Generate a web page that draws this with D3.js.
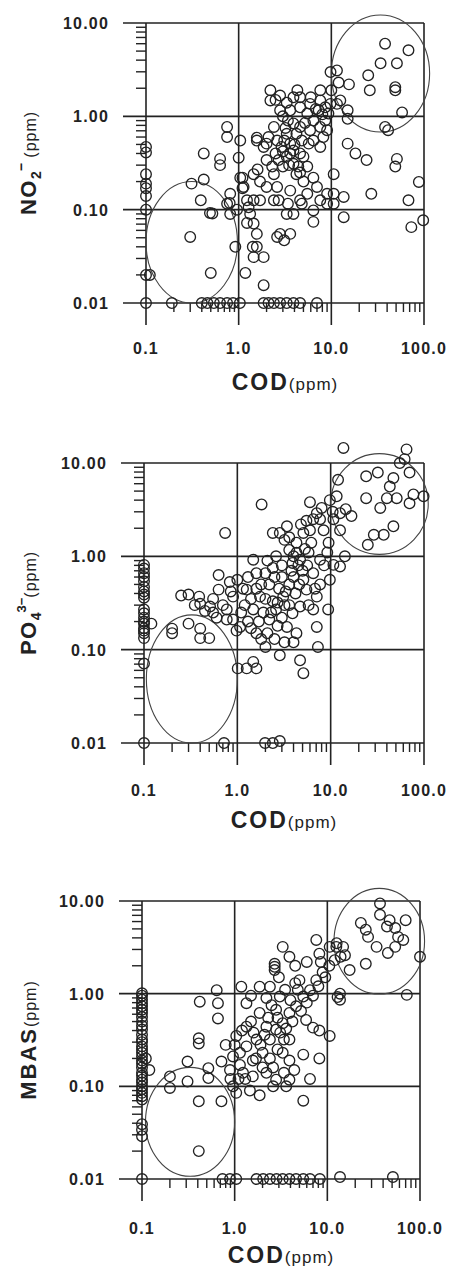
<!DOCTYPE html>
<html>
<head>
<meta charset="utf-8">
<script src="https://cdn.jsdelivr.net/npm/d3@7"></script>
<style>
body { margin: 0; background: #fff; }
text { font-family: "Liberation Sans", Arial, sans-serif; fill: #222; }
</style>
</head>
<body>
<svg id="chart" width="449" height="1275"></svg>
<script>
// COD against NO2-, PO4 3- and MBAS - three stacked log-log scatter panels

var codTicks = [0.1, 1, 10, 100];
var codTickLabels = ["0.1", "1.0", "10.0", "100.0"];
var concTicks = [0.01, 0.1, 1, 10];
var concTickLabels = ["0.01", "0.10", "1.00", "10.00"];

// [COD, NO2-] in ppm
var no2Points = [
  [0.1,0.47],[0.1,0.41],[0.1,0.24],[0.1,0.19],[0.1,0.17],[0.1,0.14],[0.1,0.10],[0.1,0.02],[0.11,0.02],[0.1,0.01],
  [0.19,0.01],[0.4,0.01],[0.46,0.01],[0.54,0.01],[0.63,0.01],[0.75,0.01],[0.87,0.01],[1.03,0.01],
  [1.86,0.01],[2.1,0.01],[2.4,0.01],[2.8,0.01],[3.3,0.01],[3.9,0.01],[4.6,0.01],[7.0,0.01],
  [0.30,0.051],[0.50,0.021],[0.31,0.19],[0.42,0.21],[0.42,0.40],[0.39,0.126],[0.49,0.092],[0.52,0.091],[0.63,0.35],[0.63,0.30],
  [0.75,0.77],[0.75,0.60],[1.04,0.55],[1.0,0.36],[1.04,0.22],[0.81,0.148],[0.75,0.116],[0.81,0.09],[0.92,0.04],[1.18,0.021],[1.86,0.0155],
  [1.13,0.175],[1.23,0.126],[1.33,0.09],[1.45,0.071],[1.57,0.055],[1.57,0.04],[1.45,0.031],[1.86,0.031],[1.57,0.55],[2.0,0.51],
  [2.2,1.9],[2.2,1.48],[2.8,1.67],[2.8,1.16],[3.0,1.0],[3.3,0.65],[3.6,0.51],[3.6,0.40],[3.9,0.31],[4.2,0.24],[4.6,0.40],
  [3.9,1.6],[4.6,1.6],[4.6,1.25],[5.5,1.07],[6.4,0.9],[7.6,1.9],[7.3,1.16],[8.6,1.25],[9.8,1.36],[11.5,1.36],[12.5,1.48],
  [9.8,2.98],[11.5,3.1],[12,2.3],[15.5,2.2],[15,0.94],[15,1.16],
  [15,0.51],[18.2,0.40],[24,0.34],[27,0.148],[13.6,0.137],[13.6,0.083],[10.6,0.24],[10.6,0.148],[10.6,0.116],[9,0.116],
  [6.4,0.22],[7,0.175],[5.5,0.148],[6.4,0.098],[6.4,0.074],[4.6,0.126],[3.9,0.09],[3.3,0.09],[2.8,0.055],[3.1,0.047],[3.6,0.055],
  [2.4,0.126],[2.4,0.24],[2.0,0.34],[2.6,0.175],[3.0,0.29],[3.6,0.16],[4.8,0.116],[7.6,0.126],[9,0.148],
  [38,6.0],[68,5.1],[34,3.7],[51,3.7],[25,2.75],[26,1.9],[49,2.05],[49,1.9],[58,1.1],[38,0.77],[41,0.71],
  [51,0.35],[49,0.29],[88,0.198],[68,0.126],[73,0.065],[98,0.077],
  [2.6,0.55],[2.9,0.47],[3.1,0.55],[3.3,0.37],[2.7,0.34],[2.3,0.29],[3.9,0.43],[4.4,0.29],[5.5,0.29],[5.0,0.37],
  [5.7,0.51],[5.9,0.71],[7.6,0.77],[8.6,0.9],[9,0.71],[4.6,0.77],[3.9,0.84],[3.6,1.16],[5.9,1.36],[7.6,1.48],
  [9.3,1.07],[6.4,0.55],[7.6,0.47],[2.4,0.77],[1.86,0.47],[1.6,0.27],[1.45,0.24],[1.7,0.2],[2.0,0.175],[2.7,0.126],
  [3.4,0.116],[1.7,0.126],[1.45,0.126],[1.28,0.106],[1.57,0.59],[1.42,0.04],[2.6,0.051],[1.23,0.072],[0.8,0.118],
  [0.96,0.1],[1.1,0.22],[1.1,0.17],
  [3.2,0.75],[3.4,0.9],[4.2,0.65],[4.8,0.55],[5.2,0.85],[6.8,1.2],[8.0,1.05],[4.0,0.5],[3.0,0.42],[3.5,0.3],
  [4.6,0.25],[5.0,0.2],[2.5,0.4],[2.1,0.6],[6.0,1.6],[10.0,1.9],[8.2,0.6],[4.3,1.9],[3.3,1.4],[2.5,1.5]
];

// [COD, PO4 3-] in ppm
var po4Points = [
  [0.1,0.81],[0.1,0.66],[0.1,0.54],[0.1,0.47],[0.1,0.42],[0.1,0.36],[0.1,0.245],[0.1,0.22],[0.1,0.19],[0.1,0.17],
  [0.1,0.15],[0.1,0.133],[0.1,0.071],[0.1,0.01],[0.12,0.19],
  [0.1,0.74],[0.1,0.6],[0.1,0.39],[0.1,0.27],[0.1,0.2],[0.1,0.16],
  [0.72,0.01],[1.98,0.01],[2.4,0.01],[2.85,0.0105],
  [0.20,0.15],[0.20,0.168],[0.30,0.19],[0.40,0.168],[0.40,0.133],[0.50,0.133],[0.30,0.39],[0.39,0.37],[0.40,0.31],
  [0.51,0.29],[0.63,0.63],[0.63,0.44],[0.74,1.78],[1.82,3.6],[0.83,0.53],[1.0,0.56],[0.9,0.37],[0.77,0.27],[0.9,0.21],
  [0.77,0.21],[0.98,0.16],[1.07,0.175],[1.01,0.063],[1.26,0.063],[1.6,0.063],[1.48,0.074],
  [1.48,0.92],[1.6,0.66],[2.0,0.66],[1.26,0.44],[1.48,0.27],[1.75,0.37],[1.6,0.15],[2.0,0.107],[2.85,0.087],[2.2,0.21],
  [2.6,0.27],[3.1,0.37],[2.4,1.78],[2.85,1.78],[3.2,1.5],[3.4,2.1],[3.6,1.17],[4.3,1.09],[3.9,0.85],[4.7,0.92],
  [5.1,0.56],[5.5,0.44],[4.7,0.29],[3.9,0.245],[3.4,0.175],[4.3,0.15],[4.7,0.077],[5.1,0.056],[7.1,0.175],[7.3,0.107],
  [9.4,0.27],[6.5,0.27],[7.1,0.37],[7.7,0.50],[9.8,0.56],[10.7,0.81],[12.6,0.78],[14.2,1.0],[12.6,1.9],[10.7,2.5],
  [12.6,2.9],[14.5,3.2],[16.7,2.7],[11.6,4.4],[12,6.6],[13.7,14.5],[6.0,3.8],[7.1,2.9],[8.4,1.9],[9.8,4.0],
  [9.2,1.1],[7.7,0.92],[6.5,0.66],[6.0,1.9],[5.1,1.78],[4.3,1.4],[3.6,1.6],[6.5,2.5],[7.7,2.5],
  [24,7.2],[32,7.9],[24,4.2],[34,3.3],[40,4.2],[51,4.2],[47,6.9],[43,5.6],[55,10],[65,14],[62,11],[70,7.9],
  [77,4.6],[99,4.4],[70,3.7],[47,2.1],[37,1.7],[29,1.7],[25,1.33],
  [2.2,0.5],[2.5,0.6],[2.8,0.45],[3.2,0.3],[3.6,0.5],[4.0,0.6],[2.4,0.33],[1.9,0.25],[1.3,0.2],[1.2,0.3],
  [1.7,0.2],[2.1,0.15],[2.7,0.18],[3.0,0.22],[3.6,0.3],[4.2,0.4],[5.0,0.7],[5.8,1.1],[6.2,1.4],[5.3,1.2],
  [4.0,1.0],[3.0,0.8],[2.6,1.0],[2.1,0.9],[1.3,0.6],[1.15,0.45],[1.4,0.35],[0.7,0.3],[0.6,0.22],[0.55,0.35],
  [2.0,0.35],[2.3,0.25],[2.7,0.32],[3.3,0.42],[3.8,0.7],[4.5,0.8],[4.6,0.5],[5.6,0.8],[3.0,0.6],[2.4,0.75],
  [1.8,0.5],[1.6,0.45],[1.1,0.25],[1.4,0.17],[1.8,0.13],[2.5,0.13],[3.2,0.12],[4.0,0.12],[5.8,0.3],[6.8,0.45],
  [8.5,0.8],[9.5,1.4],[8.0,3.3],[10.5,3.0],[5.5,2.4],[4.8,2.2],[0.35,0.3],[0.45,0.26],[0.55,0.25],[0.85,0.42],[0.25,0.38]
];

// [COD, MBAS] in ppm
var mbasPoints = [
  [0.1,1.01],[0.1,0.86],[0.1,0.73],[0.1,0.62],[0.1,0.50],[0.1,0.41],[0.1,0.32],[0.1,0.27],[0.1,0.23],[0.1,0.19],
  [0.1,0.16],[0.1,0.14],[0.1,0.118],[0.1,0.10],[0.1,0.085],[0.1,0.072],[0.1,0.039],[0.1,0.034],[0.1,0.029],[0.1,0.01],
  [0.12,0.15],[0.11,0.2],
  [0.1,0.95],[0.1,0.79],[0.1,0.67],[0.1,0.56],[0.1,0.45],[0.1,0.36],[0.1,0.3],[0.1,0.25],[0.1,0.21],[0.1,0.175],
  [0.1,0.13],[0.1,0.11],[0.1,0.093],[0.1,0.078],
  [0.74,0.01],[0.89,0.01],[1.04,0.01],[1.72,0.01],[2.03,0.01],[2.4,0.01],[2.83,0.01],[3.3,0.01],[3.9,0.01],[4.6,0.01],
  [5.5,0.01],[6.5,0.01],[8.3,0.01],[13.7,0.0105],[51,0.0105],
  [0.41,0.020],[0.41,0.069],[0.72,0.069],[0.41,0.33],[0.41,0.29],[0.20,0.096],[0.20,0.128],[0.31,0.113],[0.31,0.185],
  [0.52,0.123],[0.52,0.157],[0.66,0.54],[0.64,1.09],[0.66,0.79],[0.42,0.82],[0.72,0.185],[0.89,0.15],[0.96,0.1],
  [1.04,0.085],[1.18,1.19],[1.34,0.79],[1.86,1.19],[2.4,1.19],[3.07,0.93],[3.3,3.2],[3.9,2.5],[4.5,2.0],[2.7,2.1],
  [2.7,1.8],[2.7,1.95],[7.6,3.8],[8.2,2.7],[10.6,3.2],[12.5,3.2],[14.8,3.2],[17.4,1.8],[13.7,1.0],[13.7,0.86],
  [10.6,0.35],[8.2,0.4],[7.0,0.43],[8.2,0.2],[6.5,0.12],[5.5,0.07],[3.9,0.118],[3.6,0.1],[2.8,0.118],[2.6,0.1],
  [1.86,0.08],[1.46,0.09],[1.23,0.14],[1.57,0.19],[2.0,0.23],[2.4,0.32],[2.8,0.41],[3.3,0.48],[3.9,0.62],[4.6,0.73],
  [5.5,0.93],[6.5,1.09],[7.6,1.4],[8.9,1.7],[4.5,1.3],[5.9,0.52],[3.9,0.32],[3.3,0.23],[2.6,0.16],[2.2,0.14],
  [1.57,0.128],[1.14,0.23],[1.04,0.35],[1.34,0.44],[1.86,0.62],[2.2,0.44],[1.72,0.32],[1.34,0.27],[1.14,0.17],
  [0.96,0.21],[3.4,0.32],[3.9,0.19],[5.5,0.22],[2.8,0.67],[5.0,1.4],[12.6,3.5],[13.9,2.5],[12.9,0.92],
  [1.2,0.4],[1.5,0.5],[1.6,0.38],[1.9,0.28],[2.1,0.36],[2.3,0.55],[2.5,0.75],[2.9,0.55],[3.1,0.38],[3.6,0.42],
  [4.2,0.5],[4.0,0.85],[4.8,1.1],[5.2,0.65],[6.0,0.8],[7.0,0.95],[8.0,1.2],[9.5,1.5],[10.5,2.0],[3.0,1.5],
  [3.5,1.1],[2.2,0.9],[1.7,0.2],[2.0,0.16],[2.4,0.2],[2.9,0.25],[3.4,0.14],[4.4,0.15],[1.3,0.12],[1.1,0.12],
  [0.9,0.12],[0.8,0.28],[1.0,0.28],[1.5,0.95],[6.0,2.2],[8.5,2.2],[12.0,2.3],[15.5,2.6],
  [37,9.4],[37,7.1],[23,5.8],[26,4.9],[27.5,4.1],[34,3.2],[47,6.2],[54,5.1],[70,6.2],[66,3.8],[45,2.75],[54,3.2],
  [26,2.1],[100,2.5],[72,0.97],[58,4.1],[44,5.3]
];

// circled groups: [COD from, COD to, conc from, conc to]
var no2Groups = [[10, 115, 0.68, 12.2], [0.1, 0.97, 0.01, 0.2]];
var po4Groups = [[10, 111, 1.05, 12.6], [0.106, 1.0, 0.01, 0.236]];
var mbasGroups = [[11.8, 112, 0.99, 13.7], [0.109, 1.0, 0.0107, 0.16]];

var svg = d3.select("#chart");

var panels = [
  { pts: no2Points, groups: no2Groups, left: 146, top: 23, w: 278, h: 280, tickOff: 51, titleOff: 87, ylab: "no2" },
  { pts: po4Points, groups: po4Groups, left: 144, top: 463, w: 280, h: 280, tickOff: 53, titleOff: 85, ylab: "po4" },
  { pts: mbasPoints, groups: mbasGroups, left: 142, top: 901, w: 278, h: 278, tickOff: 55, titleOff: 84, ylab: "mbas" }
];

// 2..9 multiples inside each decade
function minorTicks(decades) {
  var out = [];
  for (var i = 0; i < decades.length - 1; i++) {
    for (var k = 2; k <= 9; k++) out.push(decades[i] * k);
  }
  return out;
}

panels.forEach(function(p) {
  var x = d3.scaleLog().domain([0.1, 100]).range([p.left, p.left + p.w]);
  var y = d3.scaleLog().domain([0.01, 10]).range([p.top + p.h, p.top]);
  var bottom = y(0.01), right = x(100);
  var g = svg.append("g");

  // minor ticks
  g.selectAll("line.ymin").data(minorTicks(concTicks)).enter().append("line")
    .attr("class", "ymin")
    .attr("x1", p.left - 10).attr("x2", p.left)
    .attr("y1", function(d) { return y(d); }).attr("y2", function(d) { return y(d); })
    .attr("stroke", "#222").attr("stroke-width", 1.4);
  g.selectAll("line.xmin").data(minorTicks(codTicks)).enter().append("line")
    .attr("class", "xmin")
    .attr("y1", bottom).attr("y2", bottom + 9)
    .attr("x1", function(d) { return x(d); }).attr("x2", function(d) { return x(d); })
    .attr("stroke", "#222").attr("stroke-width", 1.4);

  // decade grid lines, extended past the axes as major ticks
  g.selectAll("line.hgrid").data(concTicks).enter().append("line")
    .attr("class", "hgrid")
    .attr("x1", p.left - 23).attr("x2", right)
    .attr("y1", function(d) { return y(d); }).attr("y2", function(d) { return y(d); })
    .attr("stroke", "#222").attr("stroke-width", 1.6);
  g.selectAll("line.vgrid").data(codTicks).enter().append("line")
    .attr("class", "vgrid")
    .attr("y1", y(10)).attr("y2", bottom + 22)
    .attr("x1", function(d) { return x(d); }).attr("x2", function(d) { return x(d); })
    .attr("stroke", "#222").attr("stroke-width", 1.6);

  // tick labels
  g.selectAll("text.ylab").data(concTicks).enter().append("text")
    .attr("class", "ylab")
    .attr("x", p.left - 37).attr("y", function(d) { return y(d) + 6; })
    .attr("text-anchor", "end").attr("font-size", 16).attr("font-weight", "bold")
    .attr("letter-spacing", 1.2)
    .text(function(d, i) { return concTickLabels[i]; });
  g.selectAll("text.xlab").data(codTicks).enter().append("text")
    .attr("class", "xlab")
    .attr("x", function(d) { return x(d); }).attr("y", bottom + p.tickOff)
    .attr("text-anchor", "middle").attr("font-size", 16).attr("font-weight", "bold")
    .attr("letter-spacing", 1.2)
    .text(function(d, i) { return codTickLabels[i]; });

  // circled groups
  g.selectAll("ellipse.grp").data(p.groups).enter().append("ellipse")
    .attr("class", "grp")
    .attr("cx", function(d) { return (x(d[0]) + x(d[1])) / 2; })
    .attr("cy", function(d) { return (y(d[2]) + y(d[3])) / 2; })
    .attr("rx", function(d) { return (x(d[1]) - x(d[0])) / 2; })
    .attr("ry", function(d) { return (y(d[2]) - y(d[3])) / 2; })
    .attr("fill", "none").attr("stroke", "#444").attr("stroke-width", 1.1);

  // samples
  g.selectAll("circle.pt").data(p.pts).enter().append("circle")
    .attr("class", "pt")
    .attr("cx", function(d) { return x(d[0]); })
    .attr("cy", function(d) { return y(d[1]); })
    .attr("r", 5.3)
    .attr("fill", "none").attr("stroke", "#222").attr("stroke-width", 1.35);

  // x title
  var xt = g.append("text")
    .attr("x", p.left + p.w / 2).attr("y", bottom + p.titleOff)
    .attr("text-anchor", "middle");
  xt.append("tspan").attr("font-size", 23).attr("font-weight", "bold").attr("letter-spacing", 2).text("COD");
  xt.append("tspan").attr("font-size", 17).attr("letter-spacing", 1).text("(ppm)");

  // y title
  var cy = p.top + p.h / 2;
  var yt = g.append("text")
    .attr("transform", "translate(36," + cy + ") rotate(-90)")
    .attr("text-anchor", "middle");
  if (p.ylab === "no2") {
    yt.append("tspan").attr("font-size", 22).attr("font-weight", "bold").attr("letter-spacing", 1.5).text("NO");
    yt.append("tspan").attr("font-size", 14).attr("font-weight", "bold").attr("dy", 5).text("2");
    yt.append("tspan").attr("font-size", 14).attr("font-weight", "bold").attr("dy", -15).text("−");
    yt.append("tspan").attr("font-size", 16).attr("letter-spacing", 1).attr("dy", 10).text(" (ppm)");
  } else if (p.ylab === "po4") {
    yt.append("tspan").attr("font-size", 22).attr("font-weight", "bold").attr("letter-spacing", 1.5).text("PO");
    yt.append("tspan").attr("font-size", 14).attr("font-weight", "bold").attr("dy", 5).text("4");
    yt.append("tspan").attr("font-size", 13).attr("font-weight", "bold").attr("dy", -15).text("3−");
    yt.append("tspan").attr("font-size", 16).attr("letter-spacing", 1).attr("dy", 10).text("(ppm)");
  } else {
    yt.append("tspan").attr("font-size", 22).attr("font-weight", "bold").attr("letter-spacing", 2).text("MBAS");
    yt.append("tspan").attr("font-size", 16).attr("letter-spacing", 1).text("(ppm)");
  }
});
</script>
</body>
</html>
